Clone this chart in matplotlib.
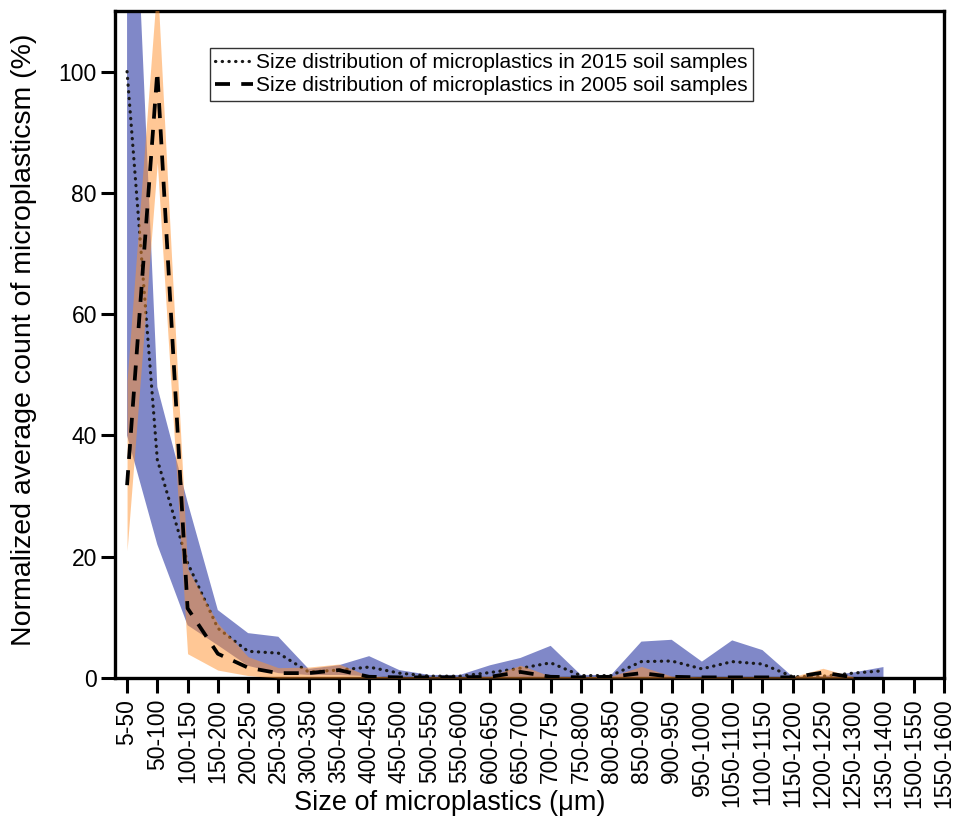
import numpy as np
import matplotlib.pyplot as plt

plt.rcParams['font.family'] = ['Liberation Sans', 'DejaVu Sans']

sizes = ['5-50', '50-100', '100-150', '150-200', '200-250', '250-300', '300-350',
         '350-400', '400-450', '450-500', '500-550', '550-600', '600-650', '650-700',
         '700-750', '750-800', '800-850', '850-900', '900-950', '950-1000',
         '1050-1100', '1100-1150', '1150-1200', '1200-1250', '1250-1300',
         '1350-1400', '1500-1550', '1550-1600']

nan = np.nan
# 2015 soil samples: mean and band limits
mean_2015 = [100, 36, 19, 8.2, 4.4, 4.1, 1.0, 1.3, 1.8, 0.8, 0.3, 0.3, 0.9, 1.6,
             2.5, 0.4, 0.4, 2.7, 2.8, 1.5, 2.7, 2.3, 0.2, 0.3, 0.8, 1.2, nan, nan]
upper_2015 = [162, 48, 29, 11.2, 7.4, 6.8, 1.5, 2.1, 3.6, 1.3, 0.5, 0.5, 2.1, 3.3,
              5.3, 0.5, 0.5, 6.0, 6.3, 2.7, 6.2, 4.6, 0.2, 0.3, 0.9, 1.8, nan, nan]
lower_2015 = [40, 22, 8.7, 5.4, 2.0, 0.8, 0.5, 0.5, 0.3, 0, 0, 0.1, 0.1, 0,
              0, 0, 0, 0, 0, 0, 0, 0, 0, 0, 0.1, 0, nan, nan]

# 2005 soil samples
mean_2005 = [31.8, 100, 11.5, 4.0, 1.7, 0.8, 0.8, 1.3, 0.2, 0.1, 0.1, 0.1, 0.2, 1.0,
             0.2, 0.1, 0.2, 0.8, 0.2, 0.1, 0.1, 0.1, 0.1, 0.9, 0.1, nan, nan, nan]
upper_2005 = [49, 115, 18, 9, 3.5, 1.7, 1.8, 2.3, 0.3, 0.2, 0.2, 0.2, 0.3, 2.1,
              0.3, 0.2, 0.3, 1.9, 0.3, 0.2, 0.2, 0.2, 0.2, 1.6, 0.2, nan, nan, nan]
lower_2005 = [21, 85, 4, 1.3, 0.4, 0, 0, 0, 0, 0, 0, 0, 0, 0,
              0, 0, 0, 0, 0, 0, 0, 0, 0, 0, 0, nan, nan, nan]

x = np.arange(len(sizes))

fig = plt.figure(figsize=(9.54, 8.24), dpi=100)
ax = fig.add_axes([0.1205, 0.1772, 0.869, 0.8095])

ax.fill_between(x, lower_2015, upper_2015, color='#8088c8', lw=0, zorder=1)
ax.plot(x, mean_2015, color='#1a1a1a', lw=2.3, linestyle=(0, (0.1, 2.0)),
        dash_capstyle='round', zorder=2,
        label='Size distribution of microplastics in 2015 soil samples')
ax.fill_between(x, lower_2005, upper_2005, color='#ff912d', alpha=0.5, lw=0, zorder=3)
ax.plot(x, mean_2005, color='black', lw=2.7, linestyle=(0, (4.0, 3.0)), zorder=4,
        label='Size distribution of microplastics in 2005 soil samples')

ax.set_xlim(-0.4, len(sizes) - 1)
ax.set_ylim(0, 110)
ax.set_xticks(x)
ax.set_xticklabels(sizes, rotation=90, fontsize=16.5)
ax.set_yticks([0, 20, 40, 60, 80, 100])
ax.tick_params(axis='y', labelsize=16.5, length=10, width=2.2, direction='out', pad=3)
ax.tick_params(axis='x', length=11, width=2.2, direction='out', pad=4)
for s in ax.spines.values():
    s.set_linewidth(2.4)

ax.set_xlabel('Size of microplastics (μm)', fontsize=19.5)
ax.xaxis.set_label_coords(0.404, -0.168)
ax.set_ylabel('Normalized average count of microplasticsm (%)', fontsize=20.5)
ax.yaxis.set_label_coords(-0.094, 0.507)

leg = ax.legend(loc='upper left', bbox_to_anchor=(0.1146, 0.9445), borderaxespad=0,
                fontsize=15, frameon=True, fancybox=False, framealpha=1,
                handlelength=1.8, handletextpad=0.15, labelspacing=0.2, borderpad=0.25)
leg.get_frame().set_edgecolor('#333333')
leg.get_frame().set_linewidth(1.0)

fig.savefig('out.png', dpi=100)
